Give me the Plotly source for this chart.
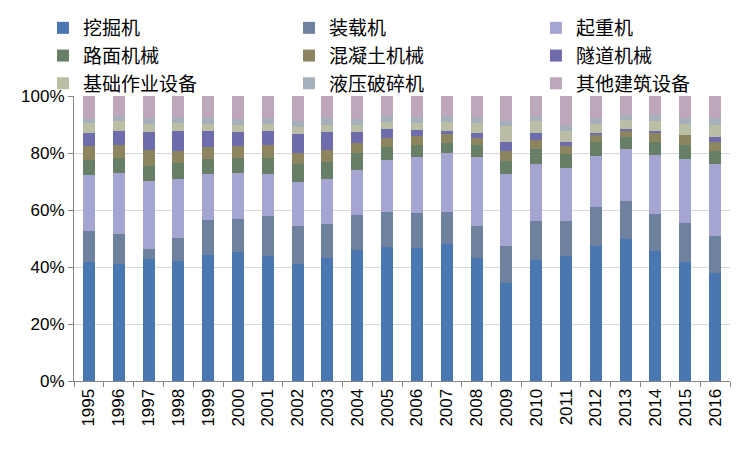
import plotly.graph_objects as go

years = [str(y) for y in range(1995, 2017)]

series_names = ["挖掘机", "装载机", "起重机", "路面机械", "混凝土机械",
                "隧道机械", "基础作业设备", "液压破碎机", "其他建筑设备"]

excavator = [41.7, 41.0, 42.8, 42.1, 44.2, 45.2, 43.8, 41.0, 43.1, 45.9, 47.0,
             46.6, 48.0, 43.1, 34.3, 42.4, 43.8, 47.3, 49.8, 45.6, 41.7, 37.9]
loader = [10.9, 10.5, 3.5, 8.0, 12.2, 11.6, 14.0, 13.3, 11.9, 12.3, 12.2,
          12.3, 11.2, 11.2, 13.0, 13.7, 12.3, 13.7, 13.3, 12.9, 13.7, 12.9]
crane = [19.6, 21.4, 23.8, 20.7, 16.1, 16.1, 14.7, 15.4, 15.8, 15.7, 18.3,
         19.6, 20.7, 24.2, 25.2, 20.0, 18.5, 17.9, 18.2, 20.7, 22.4, 25.3]
road = [5.3, 5.3, 5.5, 5.6, 5.3, 5.3, 5.7, 6.4, 6.0, 6.0, 4.5,
        4.2, 3.5, 4.2, 4.6, 5.2, 5.0, 4.9, 4.2, 4.6, 4.9, 4.5]
concrete = [4.9, 4.5, 5.4, 4.2, 4.2, 4.2, 4.5, 3.8, 4.2, 3.5, 3.2,
            3.2, 3.2, 2.5, 3.5, 3.2, 2.8, 2.4, 2.5, 3.5, 3.5, 3.2]
tunnel = [4.5, 4.9, 6.3, 7.0, 5.6, 4.9, 4.9, 6.7, 6.3, 3.9, 3.1,
          2.1, 1.0, 1.7, 3.2, 2.4, 1.4, 0.7, 0.3, 0.3, 0.0, 1.7]
foundation = [3.5, 3.5, 2.9, 2.8, 2.6, 2.4, 2.6, 2.4, 2.4, 2.4, 2.5,
              2.4, 3.2, 3.5, 5.6, 4.2, 3.8, 3.3, 3.2, 3.5, 4.0, 4.2]
breaker = [1.4, 2.0, 2.1, 2.1, 2.1, 2.1, 2.1, 2.1, 2.6, 2.1, 2.1,
           2.1, 2.1, 2.1, 1.7, 1.8, 2.1, 2.0, 1.7, 2.1, 2.1, 2.5]
others = [8.2, 6.9, 7.7, 7.5, 7.7, 8.2, 7.7, 8.9, 7.7, 8.2, 7.1,
          7.5, 7.1, 7.5, 8.9, 7.1, 10.3, 7.8, 6.8, 6.8, 7.7, 7.8]

series_values = [excavator, loader, crane, road, concrete,
                 tunnel, foundation, breaker, others]

colors = ["#4A76B2", "#6E819E", "#A5A5D2", "#667F66", "#8C8560",
          "#6F6CAD", "#B9BEA4", "#A6AFBC", "#BEA6BB"]

legend_ids = ["legend", "legend2", "legend3"]

fig = go.Figure()
for i, (name, vals, col) in enumerate(zip(series_names, series_values, colors)):
    fig.add_trace(go.Bar(x=years, y=vals, name=name, marker_color=col,
                         marker_line_width=0, legend=legend_ids[i % 3],
                         legendgroup=name))

axis_grey = "#868686"
leg_font = dict(family="Noto Sans CJK SC", size=19, color="black")


def leg(xpos):
    return dict(orientation="v", x=xpos, y=0.98, xref="paper", yref="container",
                xanchor="left", yanchor="top", font=leg_font,
                traceorder="normal", itemwidth=30, tracegroupgap=2,
                bgcolor="rgba(0,0,0,0)")


fig.update_layout(
    width=750, height=450,
    barmode="stack", barnorm="percent", bargap=0.6,
    plot_bgcolor="white", paper_bgcolor="white",
    margin=dict(l=74, r=20, t=96, b=69, autoexpand=False),
    font=dict(family="Liberation Sans", size=17, color="black"),
    showlegend=True,
    legend=leg(-0.0473),
    legend2=leg(0.3277),
    legend3=leg(0.7042),
    xaxis=dict(type="category", showline=True, linecolor=axis_grey, linewidth=1,
               ticks="outside", tickson="boundaries", ticklen=5, tickcolor=axis_grey,
               tickangle=-90, showgrid=False),
    yaxis=dict(range=[0, 100], dtick=20, ticksuffix="%", showline=True,
               linecolor=axis_grey, linewidth=1, ticks="outside", ticklen=5,
               tickcolor=axis_grey, showgrid=True, gridcolor="#D9D9D9",
               gridwidth=1, zeroline=False),
)

fig.write_html("out.html", config={"displayModeBar": False},
               post_script="document.body.style.margin='0';")
